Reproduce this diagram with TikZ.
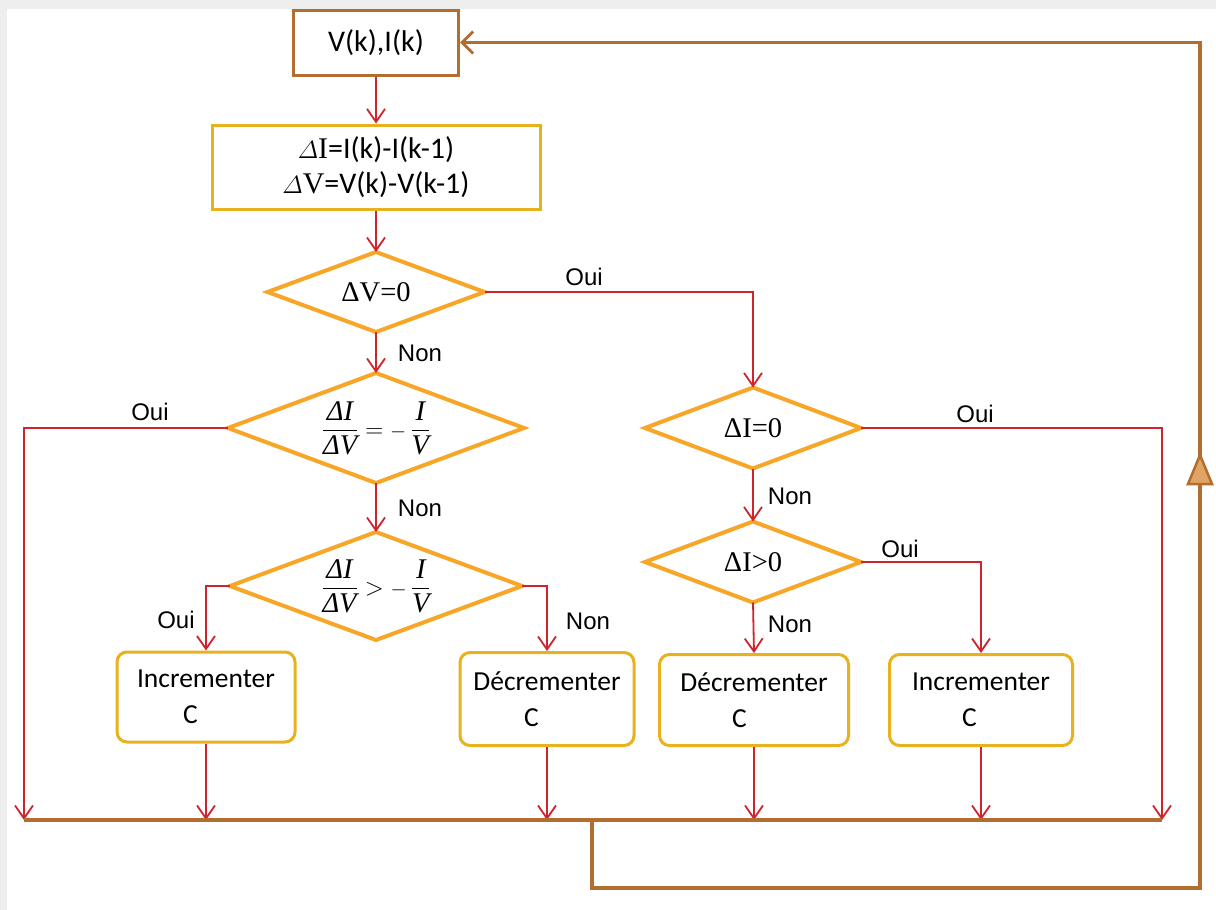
\documentclass[tikz,border=0pt]{standalone}
\usepackage{amsmath}
\usepackage{fontspec}
\setmainfont{Carlito}
\newfontfamily\lblfont{Liberation Sans}
\newfontfamily\symfont{Liberation Serif}
\usetikzlibrary{shapes.geometric,arrows.meta}
\definecolor{flowred}{RGB}{208,36,44}
\definecolor{loopbrown}{RGB}{178,110,48}
\definecolor{boxgold}{RGB}{232,178,30}
\definecolor{testorange}{RGB}{247,166,40}
\definecolor{tipfill}{RGB}{226,164,100}
\definecolor{pagegrey}{RGB}{238,238,238}
% italic fraction of two quantities, set in the serif family
\newcommand{\qfrac}[2]{\dfrac{\hbox{\symfont\itshape #1}}{\hbox{\symfont\itshape #2}}}
\begin{document}
\begin{tikzpicture}[x=1pt,y=-1pt,
  iobox/.style={draw=loopbrown,line width=3pt,minimum width=165pt,minimum height=65pt,
    inner sep=0pt,font=\fontsize{30}{32}\selectfont},
  calcbox/.style={draw=boxgold,line width=3pt,minimum width=328pt,minimum height=84pt,
    inner sep=0pt,align=center,font=\fontsize{30}{35}\selectfont},
  actbox/.style={draw=boxgold,line width=3pt,rounded corners=10pt,inner sep=0pt,
    align=center,font=\fontsize{27.5}{36}\selectfont},
  test/.style={diamond,draw=testorange,line width=4pt,inner sep=0pt,outer sep=0pt,
    aspect=2.7,font=\fontsize{28.5}{30}\symfont},
  lbl/.style={inner sep=0pt,font=\fontsize{24}{26}\lblfont},
  flow/.style={draw=flowred,line width=1.8pt,
    -{Straight Barb[length=13pt,width=18pt,line width=1.8pt]}},
  busline/.style={draw=loopbrown,line width=3.5pt,line join=miter},
  loopback/.style={draw=loopbrown,line width=3.5pt,line join=miter,
    -{Straight Barb[length=11pt,width=22pt,line width=3pt]}},
]
% page background
\fill[pagegrey] (0,0) rectangle (1216,910);
\fill[white] (7,9) rectangle (1216,910);
\useasboundingbox (0,0) rectangle (1216,910);

% measurement and difference computation
\node[iobox] (meas) at (376,42.5) {V(k),I(k)};
\node[calcbox] (diff) at (376,167)
  {{\symfont$\varDelta$I}=I(k)-I(k-1)\\{\symfont$\varDelta$V}=V(k)-V(k-1)};

% tests
\node[test,minimum width=217pt,minimum height=80pt] (dv) at (376,292) {ΔV=0};
\node[test,minimum width=296pt,minimum height=110pt] (eq) at (376,428)
  {$\qfrac{ΔI}{ΔV}={\scriptstyle -}\,\qfrac{I}{V}$};
\node[test,minimum width=292pt,minimum height=108pt] (gt) at (376,586)
  {$\qfrac{ΔI}{ΔV}>{\scriptstyle -}\,\qfrac{I}{V}$};
\node[test,minimum width=216pt,minimum height=81pt] (di) at (753,428) {ΔI=0};
\node[test,minimum width=216pt,minimum height=81pt] (dp) at (753,562) {ΔI>0};

% actions on the duty cycle
\node[actbox,minimum width=178pt,minimum height=90pt] (inca) at (206,697)
  {Incrementer\\\makebox[46pt][l]{C}};
\node[actbox,minimum width=174pt,minimum height=93pt] (deca) at (547,699)
  {Décrementer\\\makebox[46pt][l]{C}};
\node[actbox,minimum width=189pt,minimum height=91pt] (decb) at (754,700)
  {Décrementer\\\makebox[44pt][l]{C}};
\node[actbox,minimum width=183pt,minimum height=91pt] (incb) at (981,700)
  {Incrementer\\\makebox[38pt][l]{C}};

% collecting bus and loop corners
\coordinate (busL) at (24,820);
\coordinate (busR) at (1162,820);
\coordinate (busM) at (592,820);
\coordinate (retB) at (1200,888);
\coordinate (retT) at (1200,42.5);

% flow connectors
\draw[flow] (meas.south) -- (diff.north);
\draw[flow] (diff.south) -- (dv.north);
\draw[flow] (dv.east) -| (di.north);
\draw[flow] (dv.south) -- (eq.north);
\draw[flow] (eq.west) -| (busL);
\draw[flow] (eq.south) -- (gt.north);
\draw[flow] (gt.west) -| (inca.north);
\draw[flow] (gt.east) -| (deca.north);
\draw[flow] (di.east) -| (busR);
\draw[flow] (di.south) -- (dp.north);
\draw[flow] (dp.east) -| (incb.north);
\draw[flow] (dp.south) -- (decb.north);
\draw[flow] (inca.south) -- (inca.south |- busL);
\draw[flow] (deca.south) -- (deca.south |- busL);
\draw[flow] (decb.south) -- (decb.south |- busL);
\draw[flow] (incb.south) -- (incb.south |- busL);

% return to the next sample
\draw[busline] (busL) -- (busR);
\draw[loopback] (busM) |- (retB) -- (retT) -- (meas.east);
\filldraw[draw=loopbrown,fill=tipfill,line width=2.5pt,line join=miter]
  (1200,455) -- (1212,484) -- (1188,484) -- cycle;

% branch labels
\node[lbl] (l1) at (584,277) {Oui};
\node[lbl] (l2) at (420,353) {Non};
\node[lbl] (l3) at (150,412) {Oui};
\node[lbl] (l4) at (420,508) {Non};
\node[lbl] (l5) at (176,620) {Oui};
\node[lbl] (l6) at (588,621) {Non};
\node[lbl] (l7) at (975,414) {Oui};
\node[lbl] (l8) at (790,496) {Non};
\node[lbl] (l9) at (900,549) {Oui};
\node[lbl] (l10) at (790,624) {Non};
\end{tikzpicture}
\end{document}
